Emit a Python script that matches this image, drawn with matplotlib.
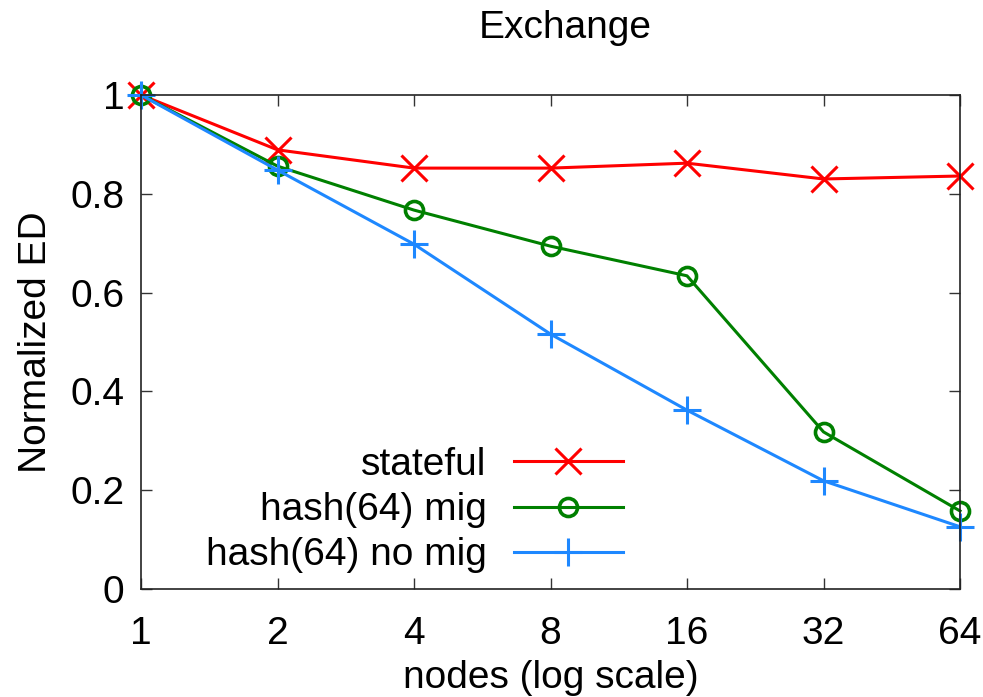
import matplotlib
matplotlib.use("Agg")
import matplotlib.pyplot as plt
from matplotlib.ticker import FixedLocator, FixedFormatter, NullLocator

plt.rcParams['font.family'] = ['Liberation Sans', 'DejaVu Sans']

nodes = [1, 2, 4, 8, 16, 32, 64]
node_labels = ["1", "2", "4", "8", "16", "32", "64"]
stateful = [1.0, 0.889, 0.852, 0.852, 0.862, 0.830, 0.836]
hash_mig = [1.0, 0.856, 0.767, 0.694, 0.634, 0.318, 0.158]
hash_nomig = [1.0, 0.848, 0.698, 0.516, 0.362, 0.219, 0.126]
y_ticks = [0, 0.2, 0.4, 0.6, 0.8, 1.0]
y_labels = ["0", "0.2", "0.4", "0.6", "0.8", "1"]

FS = 28
W, H = 983, 697
fig = plt.figure(figsize=(W / 100, H / 100), dpi=100)
left, right, top, bottom = 141, 960, 95, 589
ax = fig.add_axes([left / W, 1 - bottom / H, (right - left) / W, (bottom - top) / H])

ax.set_xscale('log', base=2)
ax.plot(nodes, stateful, color='#ff0000', lw=2.2, marker='x', ms=19, mew=2.2, label='stateful', clip_on=False)
ax.plot(nodes, hash_mig, color='#008000', lw=2.2, marker='o', ms=13, mew=2.6, mfc='none', label='hash(64) mig', clip_on=False)
ax.plot(nodes, hash_nomig, color='#1e88ff', lw=2.2, marker='+', ms=20, mew=2.2, label='hash(64) no mig', clip_on=False)

ax.set_xlim(1, 64)
ax.set_ylim(0, 1)
ax.xaxis.set_major_locator(FixedLocator(nodes))
ax.xaxis.set_major_formatter(FixedFormatter(node_labels))
ax.xaxis.set_minor_locator(NullLocator())
ax.yaxis.set_major_locator(FixedLocator(y_ticks))
ax.yaxis.set_major_formatter(FixedFormatter(y_labels))
ax.tick_params(axis='both', which='major', direction='in', length=8, width=1,
               top=True, right=True, labelsize=FS, color='#333333')
ax.tick_params(axis='x', pad=19.5)
ax.tick_params(axis='y', pad=12)
for s in ax.spines.values():
    s.set_linewidth(1.2)
    s.set_color('#222222')

ax.set_xlabel('nodes (log scale)', fontsize=FS, labelpad=5.5)
ax.set_ylabel('Normalized ED', fontsize=FS, labelpad=12)
fig.text(565 / W, 1 - 28 / H, 'Exchange', fontsize=FS, ha='center', va='center')

leg = ax.legend(loc='lower left', bbox_to_anchor=(0.06, 0.0), frameon=False, markerfirst=False,
                fontsize=FS, handlelength=2.8, handletextpad=0.7, labelspacing=0.24,
                borderaxespad=0.0)
for vp in leg._legend_handle_box.get_children():
    vp.align = 'right'

fig.savefig('out.png', dpi=100)
